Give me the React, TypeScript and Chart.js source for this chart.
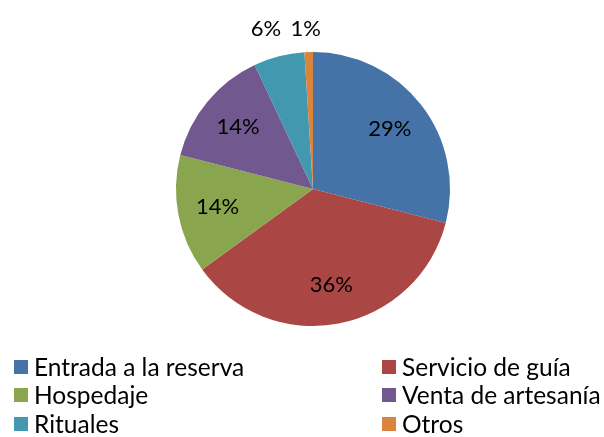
import React, { useEffect, useRef } from "react";
import { Chart, registerables } from "chart.js";

Chart.register(...registerables);

const categories = [
  "Entrada a la reserva",
  "Servicio de guía",
  "Hospedaje",
  "Venta de artesanía",
  "Rituales",
  "Otros",
];
const values = [29, 36, 14, 14, 6, 1];
const colors = ["#4572A7", "#AA4643", "#89A54E", "#71588F", "#4198AF", "#DB843D"];
const FONT = "Lato, 'Open Sans', sans-serif";

const labelPlugin = {
  id: "pctLabels",
  afterDatasetsDraw(chart: any) {
    const ctx = chart.ctx;
    const meta = chart.getDatasetMeta(0);
    const total = values.reduce((a, b) => a + b, 0);
    ctx.save();
    ctx.fillStyle = "#000";
    ctx.font = `22px ${FONT}`;
    ctx.textAlign = "center";
    ctx.textBaseline = "middle";
    const outsideNudge = [-13, -3];
    let outIdx = 0;
    meta.data.forEach((arc: any, i: number) => {
      const { x, y, startAngle, endAngle, outerRadius } = arc.getProps(
        ["x", "y", "startAngle", "endAngle", "outerRadius"],
        true
      );
      const mid = (startAngle + endAngle) / 2;
      const pct = Math.round((values[i] / total) * 100) + "%";
      if (values[i] / total >= 0.1) {
        const r = outerRadius * 0.71;
        ctx.fillText(pct, x + Math.cos(mid) * r, y + Math.sin(mid) * r);
      } else {
        const ex = x + Math.cos(mid) * outerRadius;
        ctx.fillText(pct, ex + outsideNudge[outIdx++], y - outerRadius - 23);
      }
    });
    ctx.restore();
  },
};

const legendPlugin = {
  id: "gridLegend",
  afterDraw(chart: any) {
    const ctx = chart.ctx;
    const colX = [14, 382];
    const rowY = [367, 395, 424];
    ctx.save();
    ctx.font = `24.5px ${FONT}`;
    ctx.textAlign = "left";
    ctx.textBaseline = "middle";
    categories.forEach((c, i) => {
      const cx = colX[i % 2];
      const cy = rowY[Math.floor(i / 2)];
      ctx.fillStyle = colors[i];
      ctx.fillRect(cx, cy - 7, 14, 14);
      ctx.fillStyle = "#000";
      ctx.fillText(c, cx + 20, cy + 1);
    });
    ctx.restore();
  },
};

export default function App() {
  const ref = useRef<HTMLCanvasElement>(null);
  useEffect(() => {
    if (!ref.current) return;
    const chart = new Chart(ref.current, {
      type: "pie",
      data: {
        labels: categories,
        datasets: [
          {
            data: values,
            backgroundColor: colors,
            borderWidth: 0,
          },
        ],
      },
      options: {
        responsive: false,
        animation: false,
        layout: { padding: { top: 52, bottom: 111, left: 176, right: 154 } },
        plugins: {
          legend: { display: false },
          tooltip: { enabled: false },
        },
      },
      plugins: [labelPlugin, legendPlugin],
    });
    return () => chart.destroy();
  }, []);
  return (
    <div style={{ position: "absolute", left: 0, top: 0, width: 604, height: 437, background: "#fff" }}>
      <canvas ref={ref} width={604} height={437} />
    </div>
  );
}
